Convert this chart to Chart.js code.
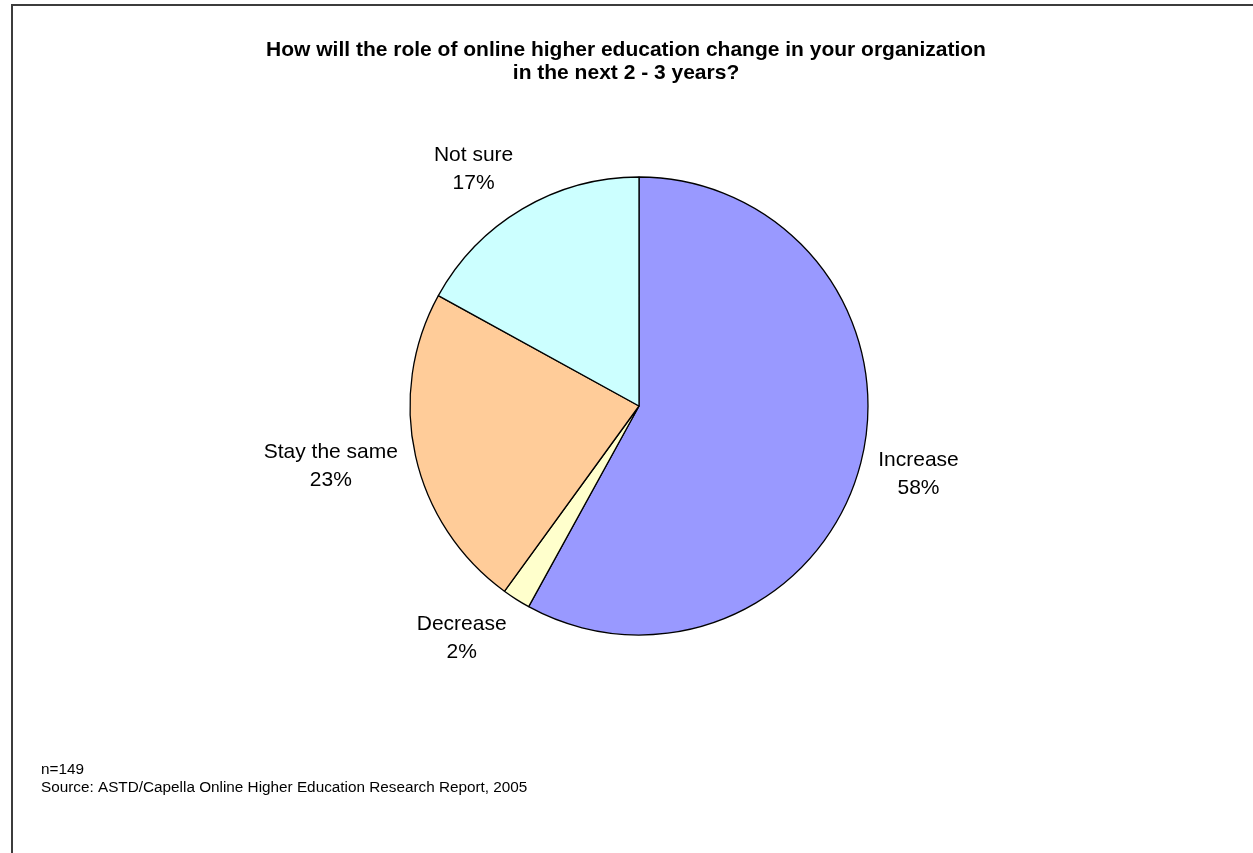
<!DOCTYPE html>
<html>
<head>
<meta charset="utf-8">
<title>Online higher education outlook</title>
<script src="https://cdn.jsdelivr.net/npm/chart.js@4.4.1/dist/chart.umd.min.js"></script>
<style>
  html, body { margin: 0; padding: 0; background: #ffffff; }
  #wrap { width: 1253px; height: 853px; }
</style>
</head>
<body>
<div id="wrap"><canvas id="pie" width="1253" height="853"></canvas></div>
<script>
const sliceLabels = ["Increase", "Decrease", "Stay the same", "Not sure"];
const slicePercents = [58, 2, 23, 17];
const sliceColors = ["#9999ff", "#ffffcc", "#ffcc99", "#ccffff"];

const titleLines = [
  "How will the role of online higher education change in your organization",
  "in the next 2 - 3 years?"
];
const footLines = [
  "n=149",
  "Source: ASTD/Capella Online Higher Education Research Report, 2005"
];

const FONT = '"Liberation Sans", Arial, Helvetica, sans-serif';

// frame, heading and source note
const decorations = {
  id: "decorations",
  beforeDraw(chart) {
    const ctx = chart.ctx;
    ctx.save();
    ctx.fillStyle = "#ffffff";
    ctx.fillRect(0, 0, chart.width, chart.height);
    ctx.strokeStyle = "#3c3c3c";
    ctx.lineWidth = 2;
    ctx.strokeRect(12, 5, chart.width + 20, chart.height + 20);
    ctx.restore();
  },
  afterDraw(chart) {
    const ctx = chart.ctx;
    ctx.save();
    ctx.fillStyle = "#000000";
    ctx.textBaseline = "middle";
    ctx.textAlign = "center";
    ctx.font = "bold 21px " + FONT;
    titleLines.forEach((t, i) => ctx.fillText(t, 626, 50 + i * 23));
    ctx.textAlign = "left";
    ctx.font = "15.3px " + FONT;
    footLines.forEach((t, i) => ctx.fillText(t, 41, 770 + i * 18));
    ctx.restore();
  }
};

// category name + percentage outside each slice
const outsideLabels = {
  id: "outsideLabels",
  afterDatasetsDraw(chart) {
    const ctx = chart.ctx;
    const meta = chart.getDatasetMeta(0);
    const lineH = 28;
    const gap = 18;
    ctx.save();
    ctx.font = "21px " + FONT;
    ctx.fillStyle = "#000000";
    ctx.textAlign = "center";
    ctx.textBaseline = "middle";
    meta.data.forEach((arc, i) => {
      const p = arc.getProps(["x", "y", "startAngle", "endAngle", "outerRadius"], true);
      const mid = (p.startAngle + p.endAngle) / 2;
      const cos = Math.cos(mid), sin = Math.sin(mid);
      const lines = [sliceLabels[i], slicePercents[i] + "%"];
      const w = Math.max(...lines.map(l => ctx.measureText(l).width));
      const h = lines.length * lineH;
      // anchor just outside the rim, then push the text block away from the pie
      const cx = p.x + cos * (p.outerRadius + gap) + Math.sign(cos) * w / 2;
      const cy = p.y + sin * (p.outerRadius + gap) + sin * h / 2;
      lines.forEach((l, k) => ctx.fillText(l, cx, cy + (k - (lines.length - 1) / 2) * lineH));
    });
    ctx.restore();
  }
};

new Chart(document.getElementById("pie"), {
  type: "pie",
  data: {
    labels: sliceLabels,
    datasets: [{
      data: slicePercents,
      backgroundColor: sliceColors,
      borderColor: "#000000",
      borderWidth: 1.3,
      radius: 229
    }]
  },
  options: {
    responsive: false,
    animation: false,
    devicePixelRatio: 1,
    layout: { padding: { left: 125, right: 100, top: 150, bottom: 191 } },
    plugins: {
      legend: { display: false },
      tooltip: { enabled: false },
      title: { display: false }
    }
  },
  plugins: [decorations, outsideLabels]
});
</script>
</body>
</html>
